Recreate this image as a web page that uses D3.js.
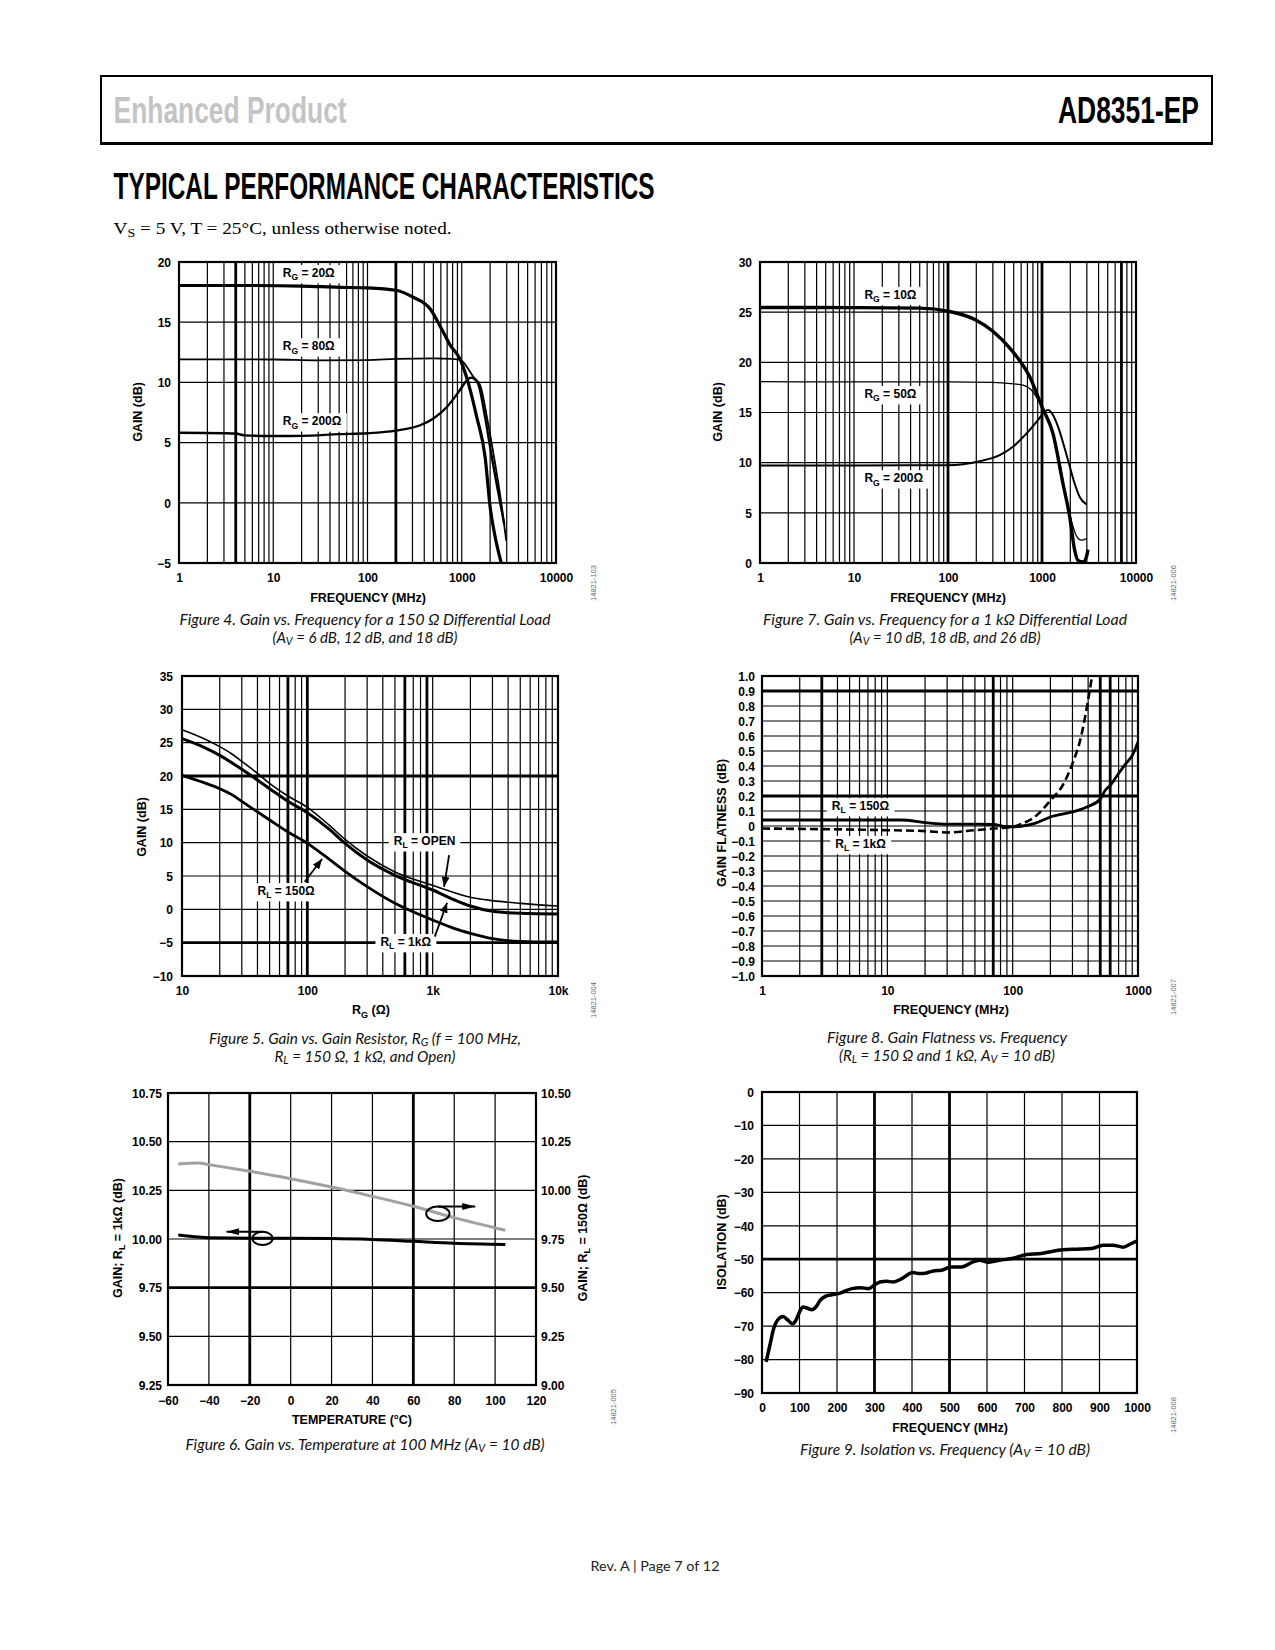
<!DOCTYPE html>
<html><head><meta charset="utf-8">
<script src="https://cdn.jsdelivr.net/npm/d3@7"></script>
<style>body{margin:0;background:#fff}</style>
</head><body>
<svg id="page" width="1275" height="1650" xmlns="http://www.w3.org/2000/svg"></svg>
<script>
// ================= DATA =================
// Figure 4 : gain vs frequency, 150 ohm load
const fig4XTicks = [1, 10, 100, 1000, 10000];
const fig4YTicks = [-5, 0, 5, 10, 15, 20];
const fig4Rg20F = [1, 5, 20, 50, 100, 200, 300, 463, 615, 754, 963, 1178, 1445, 1770, 2000, 2264, 2625];
const fig4Rg20G = [18.05, 18.05, 18.0, 17.9, 17.85, 17.65, 17.1, 16.1, 14.4, 13.1, 11.9, 9.9, 7.1, 3.8, -0.35, -2.85, -5.0];
const fig4Rg80F = [1, 10, 30, 100, 200, 500, 800, 1000, 1135, 1334, 1570, 1877, 2230, 2605, 2966];
const fig4Rg80G = [11.92, 11.9, 11.83, 11.85, 11.95, 12.0, 11.95, 11.8, 11.28, 10.45, 9.76, 6.85, 3.53, 0.2, -3.17];
const fig4Rg200F = [1, 3, 4, 5, 10, 20, 50, 100, 200, 362, 501, 695, 925, 1135, 1250, 1400, 1507, 1770, 2083, 2453, 2826];
const fig4Rg200G = [5.82, 5.78, 5.75, 5.6, 5.55, 5.56, 5.7, 5.78, 6.0, 6.44, 7.0, 7.96, 9.2, 10.17, 10.4, 10.2, 9.8, 7.1, 3.8, 0.77, -1.8];

// Figure 7 : gain vs frequency, 1 kohm load
const fig7XTicks = [1, 10, 100, 1000, 10000];
const fig7YTicks = [0, 5, 10, 15, 20, 25, 30];
const fig7Rg10F = [1, 10, 50, 100, 200, 300, 472, 740, 1000, 1309, 1672, 1972, 2228, 2416, 2730, 2966, 3085];
const fig7Rg10G = [25.47, 25.45, 25.4, 25.1, 24.2, 23.1, 21.24, 18.57, 15.57, 12.9, 7.9, 4.6, 1.25, 0.26, 0.1, 0.6, 1.33];
const fig7Rg50F = [1, 10, 100, 300, 500, 628, 802, 1000, 1300, 1500, 1743, 2055, 2323, 2624, 2966];
const fig7Rg50G = [18.07, 18.05, 18.05, 18.0, 17.85, 17.74, 17.07, 15.5, 13.2, 10.6, 7.25, 4.2, 2.7, 2.27, 2.43];
const fig7Rg200F = [1, 10, 100, 217, 355, 491, 682, 906, 1069, 1159, 1300, 1480, 1892, 2228, 2518, 2966];
const fig7Rg200G = [9.73, 9.73, 9.75, 10.15, 10.75, 11.58, 12.9, 14.25, 15.08, 15.25, 14.8, 13.6, 10.25, 7.9, 6.58, 5.85];

// Figure 5 : gain vs gain resistor
const fig5XTicks = [10, 100, 1000, 10000];
const fig5XLabels = ["10", "100", "1k", "10k"];
const fig5YTicks = [-10, -5, 0, 5, 10, 15, 20, 25, 30, 35];
const fig5OpenR = [10, 15, 20, 25, 30, 40, 50, 70, 100, 150, 200, 300, 500, 1000, 2000, 3000, 5000, 10000];
const fig5OpenG = [26.95, 25.6, 24.4, 23.3, 22.2, 20.4, 18.9, 17.0, 15.3, 12.6, 10.5, 8.0, 5.6, 3.6, 1.8, 1.3, 0.9, 0.5];
const fig5R1kR = [10, 15, 20, 30, 50, 70, 100, 150, 200, 300, 500, 1000, 1500, 2000, 3000, 5000, 10000];
const fig5R1kG = [25.6, 24.3, 23.1, 21.0, 18.1, 16.2, 14.5, 12.0, 9.9, 7.4, 5.1, 2.9, 1.4, 0.5, -0.3, -0.6, -0.7];
const fig5R150R = [10, 15, 20, 25, 30, 50, 70, 100, 150, 200, 300, 500, 1000, 1500, 2000, 3000, 5000, 10000];
const fig5R150G = [20.1, 19.0, 18.1, 17.2, 16.2, 13.4, 11.6, 9.9, 7.5, 5.7, 3.4, 0.9, -1.6, -2.9, -3.6, -4.4, -4.8, -4.9];

// Figure 8 : gain flatness vs frequency
const fig8XTicks = [1, 10, 100, 1000];
const fig8YTicks = [-1.0, -0.9, -0.8, -0.7, -0.6, -0.5, -0.4, -0.3, -0.2, -0.1, 0, 0.1, 0.2, 0.3, 0.4, 0.5, 0.6, 0.7, 0.8, 0.9, 1.0];
const fig8R150F = [1, 5, 13, 20, 30, 50, 70, 90, 100, 120, 150, 200, 300, 400, 500, 550, 600, 700, 800, 900, 1000];
const fig8R150G = [0.04, 0.04, 0.04, 0.023, 0.012, 0.012, 0.01, -0.005, -0.005, 0.0, 0.017, 0.06, 0.094, 0.13, 0.18, 0.24, 0.27, 0.35, 0.416, 0.47, 0.56];
const fig8R1kF = [1, 10, 20, 30, 50, 70, 100, 120, 150, 200, 250, 300, 350, 400, 430];
const fig8R1kG = [-0.017, -0.028, -0.034, -0.043, -0.028, -0.017, -0.005, 0.017, 0.061, 0.17, 0.27, 0.416, 0.59, 0.84, 1.0];

// Figure 6 : gain vs temperature
const fig6XTicks = [-60, -40, -20, 0, 20, 40, 60, 80, 100, 120];
const fig6YLeftTicks = [9.25, 9.5, 9.75, 10.0, 10.25, 10.5, 10.75];
const fig6YRightTicks = [9.0, 9.25, 9.5, 9.75, 10.0, 10.25, 10.5];
const fig6Temp = [-55, -45, -40, -20, 0, 20, 40, 60, 80, 105];
const fig6Gain1k = [10.021, 10.01, 10.006, 10.004, 10.004, 10.003, 9.998, 9.988, 9.978, 9.972];
const fig6Gain150 = [10.135, 10.14, 10.132, 10.098, 10.06, 10.017, 9.969, 9.918, 9.86, 9.795];

// Figure 9 : isolation vs frequency
const fig9XTicks = [0, 100, 200, 300, 400, 500, 600, 700, 800, 900, 1000];
const fig9YTicks = [-90, -80, -70, -60, -50, -40, -30, -20, -10, 0];
const fig9F = [11, 22, 31, 42, 56, 68, 82, 91, 100, 109, 120, 133, 145, 155, 169, 186, 204, 222, 240, 262, 284, 302, 315, 333, 350, 373, 402, 421, 439, 457, 479, 503, 532, 563, 581, 601, 634, 666, 706, 745, 776, 803, 839, 879, 910, 936, 963, 985, 1000];
const fig9Iso = [-80.7, -75.2, -70.8, -68.1, -67.1, -68.1, -69.3, -68.1, -65.8, -64.3, -64.6, -65.1, -64.1, -62.3, -61.1, -60.6, -60.3, -59.5, -58.8, -58.5, -58.8, -57.5, -56.8, -56.6, -56.8, -55.8, -54.0, -54.3, -54.1, -53.5, -53.3, -52.3, -52.3, -50.8, -50.3, -50.9, -50.3, -49.8, -48.6, -48.3, -47.6, -47.2, -47.0, -46.8, -45.8, -45.8, -46.4, -45.3, -44.6];

// ================= DRAWING =================
const SANS = "'Liberation Sans', Arial, Helvetica, sans-serif";
const NARROW = "'Liberation Sans Narrow', 'Liberation Sans', Arial, sans-serif";
const CAPF = "Lato, 'Open Sans', 'Noto Sans', sans-serif";
const svg = d3.select('#page');
svg.append('rect').attr('width', 1275).attr('height', 1650).attr('fill', '#fff');
const defs = svg.append('defs');

function marker(id, w, h) {
  defs.append('marker').attr('id', id).attr('viewBox', '0 0 10 10')
    .attr('refX', 10).attr('refY', 5).attr('markerWidth', w).attr('markerHeight', h)
    .attr('markerUnits', 'userSpaceOnUse').attr('orient', 'auto')
    .attr('preserveAspectRatio', 'none')
    .append('path').attr('d', 'M0,0L10,5L0,10Z').attr('fill', '#000');
}
marker('arrA', 10, 8);
marker('arrB', 13, 7);

function rich(sel, parts, size, shift) {
  if (typeof parts === 'string') parts = [parts];
  const sh = shift === undefined ? 0.28 : shift;
  let off = 0;
  parts.forEach(p => {
    const sub = p[0] === '_';
    const t = sub ? p.slice(1) : p;
    const target = sub ? size * sh : 0;
    const ts = sel.append('tspan').text(t);
    if (target - off !== 0) ts.attr('dy', target - off);
    if (sub) ts.attr('font-size', size * 0.72);
    off = target;
  });
  return sel;
}

const zip = (a, b) => a.map((v, i) => [v, b[i]]);
const logGrid = (a, b) => { const o = []; for (let p = a; p < b; p++) for (let k = 1; k < 10; k++) o.push(k * Math.pow(10, p)); o.push(Math.pow(10, b)); return o; };
let clipN = 0;

function chart(o) {
  const g = svg.append('g');
  const x = (o.xlog ? d3.scaleLog() : d3.scaleLinear()).domain(o.xdom).range([o.L, o.R]);
  const y = d3.scaleLinear().domain(o.ydom).range([o.B, o.T]);
  const thick = (arr, d) => (arr || []).some(t => Math.abs(t - d) < 1e-9);
  // grid
  g.append('g').selectAll('line').data(o.xgrid).join('line')
    .attr('x1', d => x(d)).attr('x2', d => x(d)).attr('y1', o.T).attr('y2', o.B)
    .attr('stroke', '#000').attr('stroke-width', d => thick(o.xthick, d) ? 2.8 : 1.2);
  g.append('g').selectAll('line').data(o.ygrid).join('line')
    .attr('y1', d => y(d)).attr('y2', d => y(d)).attr('x1', o.L).attr('x2', o.R)
    .attr('stroke', '#000').attr('stroke-width', d => thick(o.ythick, d) ? 2.8 : 1.2);
  // labels with white boxes
  (o.labels || []).forEach(d => {
    const t = g.append('text').attr('x', x(d.x)).attr('y', y(d.y))
      .attr('font-family', SANS).attr('font-weight', 'bold').attr('font-size', 12).attr('fill', '#000');
    rich(t, d.parts, 12);
    const bb = t.node().getBBox();
    g.insert('rect', () => t.node()).attr('x', bb.x - 5).attr('y', bb.y - 1)
      .attr('width', bb.width + 10).attr('height', bb.height + 2).attr('fill', '#fff');
  });
  // frame
  g.append('rect').attr('x', o.L).attr('y', o.T).attr('width', o.R - o.L).attr('height', o.B - o.T)
    .attr('fill', 'none').attr('stroke', '#000').attr('stroke-width', 2.2);
  // series
  const cid = 'clip' + (clipN++);
  defs.append('clipPath').attr('id', cid).append('rect')
    .attr('x', o.L - 1).attr('y', o.T - 1).attr('width', o.R - o.L + 2).attr('height', o.B - o.T + 2);
  const sg = g.append('g').attr('clip-path', `url(#${cid})`);
  (o.series || []).forEach(s => {
    const yy = s.y2 ? d3.scaleLinear().domain(o.y2dom).range([o.B, o.T]) : y;
    const line = d3.line().x(d => x(d[0])).y(d => yy(d[1])).curve(d3.curveMonotoneX);
    sg.append('path').datum(s.data).attr('d', line).attr('fill', 'none')
      .attr('stroke', s.color || '#000').attr('stroke-width', s.w)
      .attr('stroke-linejoin', 'round').attr('stroke-linecap', 'butt')
      .attr('stroke-dasharray', s.dash || null);
  });
  // arrows & ellipses
  (o.arrows || []).forEach(a => {
    g.append('line').attr('x1', x(a.x1)).attr('y1', y(a.y1)).attr('x2', x(a.x2)).attr('y2', y(a.y2))
      .attr('stroke', '#000').attr('stroke-width', a.w || 1.8).attr('marker-end', `url(#${a.m})`);
  });
  (o.ellipses || []).forEach(e => {
    g.append('ellipse').attr('cx', x(e.x)).attr('cy', y(e.y))
      .attr('rx', Math.abs(x(e.x + e.rx) - x(e.x))).attr('ry', Math.abs(y(e.y + e.ry) - y(e.y)))
      .attr('fill', 'none').attr('stroke', '#000').attr('stroke-width', 2);
  });
  // axes
  const fs = o.tickSize || 12;
  const ax = g.append('g').attr('transform', `translate(0,${o.B})`)
    .call(d3.axisBottom(x).tickValues(o.xticks).tickFormat(o.xfmt).tickSize(0));
  ax.select('.domain').remove();
  ax.selectAll('text').attr('y', o.xTickDy).attr('dy', 0)
    .attr('font-family', SANS).attr('font-weight', 'bold').attr('font-size', 12).attr('fill', '#000');
  const ay = g.append('g').attr('transform', `translate(${o.L},0)`)
    .call(d3.axisLeft(y).tickValues(o.yticks).tickFormat(o.yfmt).tickSize(0).tickPadding(o.yPad));
  ay.select('.domain').remove();
  ay.selectAll('text').attr('dy', '0.36em')
    .attr('font-family', SANS).attr('font-weight', 'bold').attr('font-size', fs).attr('fill', '#000');
  if (o.y2dom) {
    const y2 = d3.scaleLinear().domain(o.y2dom).range([o.B, o.T]);
    const ar = g.append('g').attr('transform', `translate(${o.R},0)`)
      .call(d3.axisRight(y2).tickValues(o.y2ticks).tickFormat(o.yfmt).tickSize(0).tickPadding(5));
    ar.select('.domain').remove();
    ar.selectAll('text').attr('dy', '0.36em')
      .attr('font-family', SANS).attr('font-weight', 'bold').attr('font-size', fs).attr('fill', '#000');
  }
  // axis titles
  rich(g.append('text').attr('x', o.xtX).attr('y', o.xtY).attr('text-anchor', 'middle')
    .attr('font-family', SANS).attr('font-weight', 'bold').attr('font-size', 12.5), o.xtitle, 12.5);
  rich(g.append('text').attr('transform', `translate(${o.ytX},${o.ytY}) rotate(-90)`)
    .attr('text-anchor', 'middle').attr('dominant-baseline', 'central')
    .attr('font-family', SANS).attr('font-weight', 'bold').attr('font-size', 12.5), o.ytitle, 12.5);
  if (o.y2title) {
    rich(g.append('text').attr('transform', `translate(${o.y2tX},${o.ytY}) rotate(-90)`)
      .attr('text-anchor', 'middle').attr('dominant-baseline', 'central')
      .attr('font-family', SANS).attr('font-weight', 'bold').attr('font-size', 12.5), o.y2title, 12.5);
  }
  // id
  g.append('text').attr('transform', `translate(${o.idX},${o.idY}) rotate(-90)`)
    .attr('text-anchor', 'middle').attr('dominant-baseline', 'central')
    .attr('font-family', SANS).attr('font-size', 7.5).attr('fill', '#666').text(o.id);
  // caption
  o.caption.forEach((c, i) => {
    const t = g.append('text').attr('x', o.capX).attr('y', o.capY[i]).attr('text-anchor', 'middle')
      .attr('font-family', CAPF).attr('font-style', 'italic').attr('font-size', 15).attr('fill', '#111')
      .attr('textLength', c.w).attr('lengthAdjust', 'spacingAndGlyphs');
    rich(t, c.parts, 15, 0.14);
  });
}

const fmtInt = d3.format('d');

// ---------- Figure 4 ----------
chart({
  L: 179, T: 262, R: 556, B: 563, xlog: true, xdom: [1, 10000], ydom: [-5, 20],
  xgrid: logGrid(0, 4), ygrid: fig4YTicks, xthick: [4, 200], ythick: [],
  xticks: fig4XTicks, xfmt: d => String(d), yticks: fig4YTicks, yfmt: fmtInt,
  xTickDy: 19, yPad: 8,
  xtitle: 'FREQUENCY (MHz)', xtX: 368, xtY: 602, ytitle: 'GAIN (dB)', ytX: 138, ytY: 412,
  id: '14821-103', idX: 593, idY: 583,
  labels: [
    { x: 12.6, y: 18.75, parts: ['R', '_G', ' = 20Ω'] },
    { x: 12.6, y: 12.67, parts: ['R', '_G', ' = 80Ω'] },
    { x: 12.6, y: 6.44, parts: ['R', '_G', ' = 200Ω'] }
  ],
  series: [
    { data: zip(fig4Rg80F, fig4Rg80G), w: 1.8 },
    { data: zip(fig4Rg200F, fig4Rg200G), w: 2.4 },
    { data: zip(fig4Rg20F, fig4Rg20G), w: 3.2 }
  ],
  caption: [
    { parts: 'Figure 4. Gain vs. Frequency for a 150 Ω Differential Load', w: 371 },
    { parts: ['(A', '_V', ' = 6 dB, 12 dB, and 18 dB)'], w: 185 }
  ], capX: 365, capY: [625, 643]
});

// ---------- Figure 7 ----------
chart({
  L: 760, T: 262, R: 1136, B: 563, xlog: true, xdom: [1, 10000], ydom: [0, 30],
  xgrid: logGrid(0, 4), ygrid: fig7YTicks, xthick: [100, 1000, 7000], ythick: [],
  xticks: fig7XTicks, xfmt: d => String(d), yticks: fig7YTicks, yfmt: fmtInt,
  xTickDy: 19, yPad: 8,
  xtitle: 'FREQUENCY (MHz)', xtX: 948, xtY: 602, ytitle: 'GAIN (dB)', ytX: 718, ytY: 412,
  id: '14821-006', idX: 1173, idY: 583,
  labels: [
    { x: 12.9, y: 26.33, parts: ['R', '_G', ' = 10Ω'] },
    { x: 12.9, y: 16.44, parts: ['R', '_G', ' = 50Ω'] },
    { x: 12.9, y: 8.05, parts: ['R', '_G', ' = 200Ω'] }
  ],
  series: [
    { data: zip(fig7Rg50F, fig7Rg50G), w: 1.3 },
    { data: zip(fig7Rg200F, fig7Rg200G), w: 2.0 },
    { data: zip(fig7Rg10F, fig7Rg10G), w: 3.4 }
  ],
  caption: [
    { parts: 'Figure 7. Gain vs. Frequency for a 1 kΩ Differential Load', w: 364 },
    { parts: ['(A', '_V', ' = 10 dB, 18 dB, and 26 dB)'], w: 191 }
  ], capX: 945, capY: [625, 643]
});

// ---------- Figure 5 ----------
chart({
  L: 182, T: 676, R: 558, B: 976, xlog: true, xdom: [10, 10000], ydom: [-10, 35],
  xgrid: logGrid(1, 4), ygrid: fig5YTicks, xthick: [70, 100, 600, 900], ythick: [20, -5],
  xticks: fig5XTicks, xfmt: (d, i) => fig5XLabels[i], yticks: fig5YTicks, yfmt: fmtInt,
  xTickDy: 19, yPad: 9,
  xtitle: ['R', '_G', ' (Ω)'], xtX: 371, xtY: 1014, ytitle: 'GAIN (dB)', ytX: 142, ytY: 827,
  id: '14821-004', idX: 593, idY: 1000,
  labels: [
    { x: 489, y: 9.63, parts: ['R', '_L', ' = OPEN'] },
    { x: 40, y: 2.14, parts: ['R', '_L', ' = 150Ω'] },
    { x: 383, y: -5.5, parts: ['R', '_L', ' = 1kΩ'] }
  ],
  series: [
    { data: zip(fig5OpenR, fig5OpenG), w: 1.6 },
    { data: zip(fig5R1kR, fig5R1kG), w: 3.0 },
    { data: zip(fig5R150R, fig5R150G), w: 2.8 }
  ],
  arrows: [
    { x1: 1352, y1: 8.13, x2: 1233, y2: 3.38, m: 'arrA' },
    { x1: 95.3, y1: 4.13, x2: 131, y2: 7.54, m: 'arrA' },
    { x1: 1040, y1: -4.1, x2: 1303, y2: 0.99, m: 'arrA' }
  ],
  caption: [
    { parts: ['Figure 5. Gain vs. Gain Resistor, R', '_G', ' (f = 100 MHz,'], w: 312 },
    { parts: ['R', '_L', ' = 150 Ω, 1 kΩ, and Open)'], w: 181 }
  ], capX: 365, capY: [1044, 1062]
});

// ---------- Figure 8 ----------
chart({
  L: 762, T: 676, R: 1138, B: 976, xlog: true, xdom: [1, 1000], ydom: [-1, 1],
  xgrid: logGrid(0, 3), ygrid: fig8YTicks, xthick: [3, 70, 500, 600], ythick: [0.9, 0.2],
  xticks: fig8XTicks, xfmt: d => String(d), yticks: fig8YTicks,
  yfmt: d => Math.abs(d) < 1e-9 ? '0' : d3.format('.1f')(d), tickSize: 12,
  xTickDy: 19, yPad: 7,
  xtitle: 'FREQUENCY (MHz)', xtX: 951, xtY: 1014, ytitle: 'GAIN FLATNESS (dB)', ytX: 722, ytY: 823,
  id: '14821-007', idX: 1173, idY: 997,
  labels: [
    { x: 3.61, y: 0.106, parts: ['R', '_L', ' = 150Ω'] },
    { x: 3.84, y: -0.146, parts: ['R', '_L', ' = 1kΩ'] }
  ],
  series: [
    { data: zip(fig8R150F, fig8R150G), w: 2.8 },
    { data: zip(fig8R1kF, fig8R1kG), w: 2.6, dash: '8,4' }
  ],
  caption: [
    { parts: 'Figure 8. Gain Flatness vs. Frequency', w: 240 },
    { parts: ['(R', '_L', ' = 150 Ω and 1 kΩ, A', '_V', ' = 10 dB)'], w: 216 }
  ], capX: 947, capY: [1043, 1061]
});

// ---------- Figure 6 ----------
chart({
  L: 168, T: 1093, R: 536, B: 1385, xlog: false, xdom: [-60, 120], ydom: [9.25, 10.75],
  y2dom: [9.0, 10.5], y2ticks: fig6YRightTicks,
  xgrid: fig6XTicks, ygrid: fig6YLeftTicks, xthick: [-20, 60], ythick: [9.75],
  xticks: fig6XTicks, xfmt: fmtInt, yticks: fig6YLeftTicks, yfmt: d3.format('.2f'),
  xTickDy: 20, yPad: 6,
  xtitle: 'TEMPERATURE (°C)', xtX: 352, xtY: 1424,
  ytitle: ['GAIN; R', '_L', ' = 1kΩ (dB)'], ytX: 118, ytY: 1238,
  y2title: ['GAIN; R', '_L', ' = 150Ω (dB)'], y2tX: 583,
  id: '14821-005', idX: 613, idY: 1407,
  series: [
    { data: zip(fig6Temp, fig6Gain150), w: 3, color: '#a0a0a0', y2: true },
    { data: zip(fig6Temp, fig6Gain1k), w: 3 }
  ],
  ellipses: [
    { x: -13.75, y: 10.003, rx: 4.9, ry: 0.034 },
    { x: 72, y: 10.13, rx: 5.7, ry: 0.0375 }
  ],
  arrows: [
    { x1: -13.5, y1: 10.0375, x2: -31.4, y2: 10.0375, m: 'arrB', w: 2 },
    { x1: 72, y1: 10.167, x2: 90.3, y2: 10.167, m: 'arrB', w: 2 }
  ],
  caption: [
    { parts: ['Figure 6. Gain vs. Temperature at 100 MHz (A', '_V', ' = 10 dB)'], w: 359 }
  ], capX: 365, capY: [1450]
});

// ---------- Figure 9 ----------
chart({
  L: 762, T: 1092, R: 1137, B: 1393, xlog: false, xdom: [0, 1000], ydom: [-90, 0],
  xgrid: fig9XTicks, ygrid: fig9YTicks, xthick: [300, 500], ythick: [-50],
  xticks: fig9XTicks, xfmt: fmtInt, yticks: fig9YTicks, yfmt: fmtInt,
  xTickDy: 19, yPad: 8,
  xtitle: 'FREQUENCY (MHz)', xtX: 950, xtY: 1432, ytitle: 'ISOLATION (dB)', ytX: 722, ytY: 1242,
  id: '14821-008', idX: 1173, idY: 1415,
  series: [ { data: zip(fig9F, fig9Iso), w: 3.5 } ],
  caption: [
    { parts: ['Figure 9. Isolation vs. Frequency (A', '_V', ' = 10 dB)'], w: 290 }
  ], capX: 945, capY: [1455]
});

// ---------- Page header / footer ----------
const hdr = svg.append('g');
hdr.append('rect').attr('x', 101).attr('y', 76).attr('width', 1111).attr('height', 67)
  .attr('fill', 'none').attr('stroke', '#000').attr('stroke-width', 2);
hdr.append('line').attr('x1', 100).attr('x2', 1213).attr('y1', 143.5).attr('y2', 143.5)
  .attr('stroke', '#000').attr('stroke-width', 3);
hdr.append('text').attr('x', 113.6).attr('y', 123).attr('font-family', NARROW).attr('font-weight', 'bold')
  .attr('font-size', 37).attr('fill', '#c4c4c4').attr('textLength', 233).attr('lengthAdjust', 'spacingAndGlyphs')
  .text('Enhanced Product');
hdr.append('text').attr('x', 1199).attr('y', 123).attr('text-anchor', 'end').attr('font-family', NARROW)
  .attr('font-weight', 'bold').attr('font-size', 37).attr('fill', '#000')
  .attr('textLength', 141).attr('lengthAdjust', 'spacingAndGlyphs').text('AD8351-EP');
hdr.append('text').attr('x', 113.6).attr('y', 198.8).attr('font-family', NARROW).attr('font-weight', 'bold')
  .attr('font-size', 37).attr('fill', '#000').attr('textLength', 541).attr('lengthAdjust', 'spacingAndGlyphs')
  .text('TYPICAL PERFORMANCE CHARACTERISTICS');
rich(hdr.append('text').attr('x', 113.6).attr('y', 233.5).attr('font-family', "'Liberation Serif', 'Times New Roman', serif")
  .attr('font-size', 17).attr('fill', '#000').attr('textLength', 338).attr('lengthAdjust', 'spacingAndGlyphs'),
  ['V', '_S', ' = 5 V, T = 25°C, unless otherwise noted.'], 17, 0.18);
svg.append('text').attr('x', 655).attr('y', 1571).attr('text-anchor', 'middle').attr('font-family', CAPF)
  .attr('font-size', 14).attr('fill', '#222').attr('textLength', 129).attr('lengthAdjust', 'spacingAndGlyphs')
  .text('Rev. A | Page 7 of 12');
</script>
</body></html>
